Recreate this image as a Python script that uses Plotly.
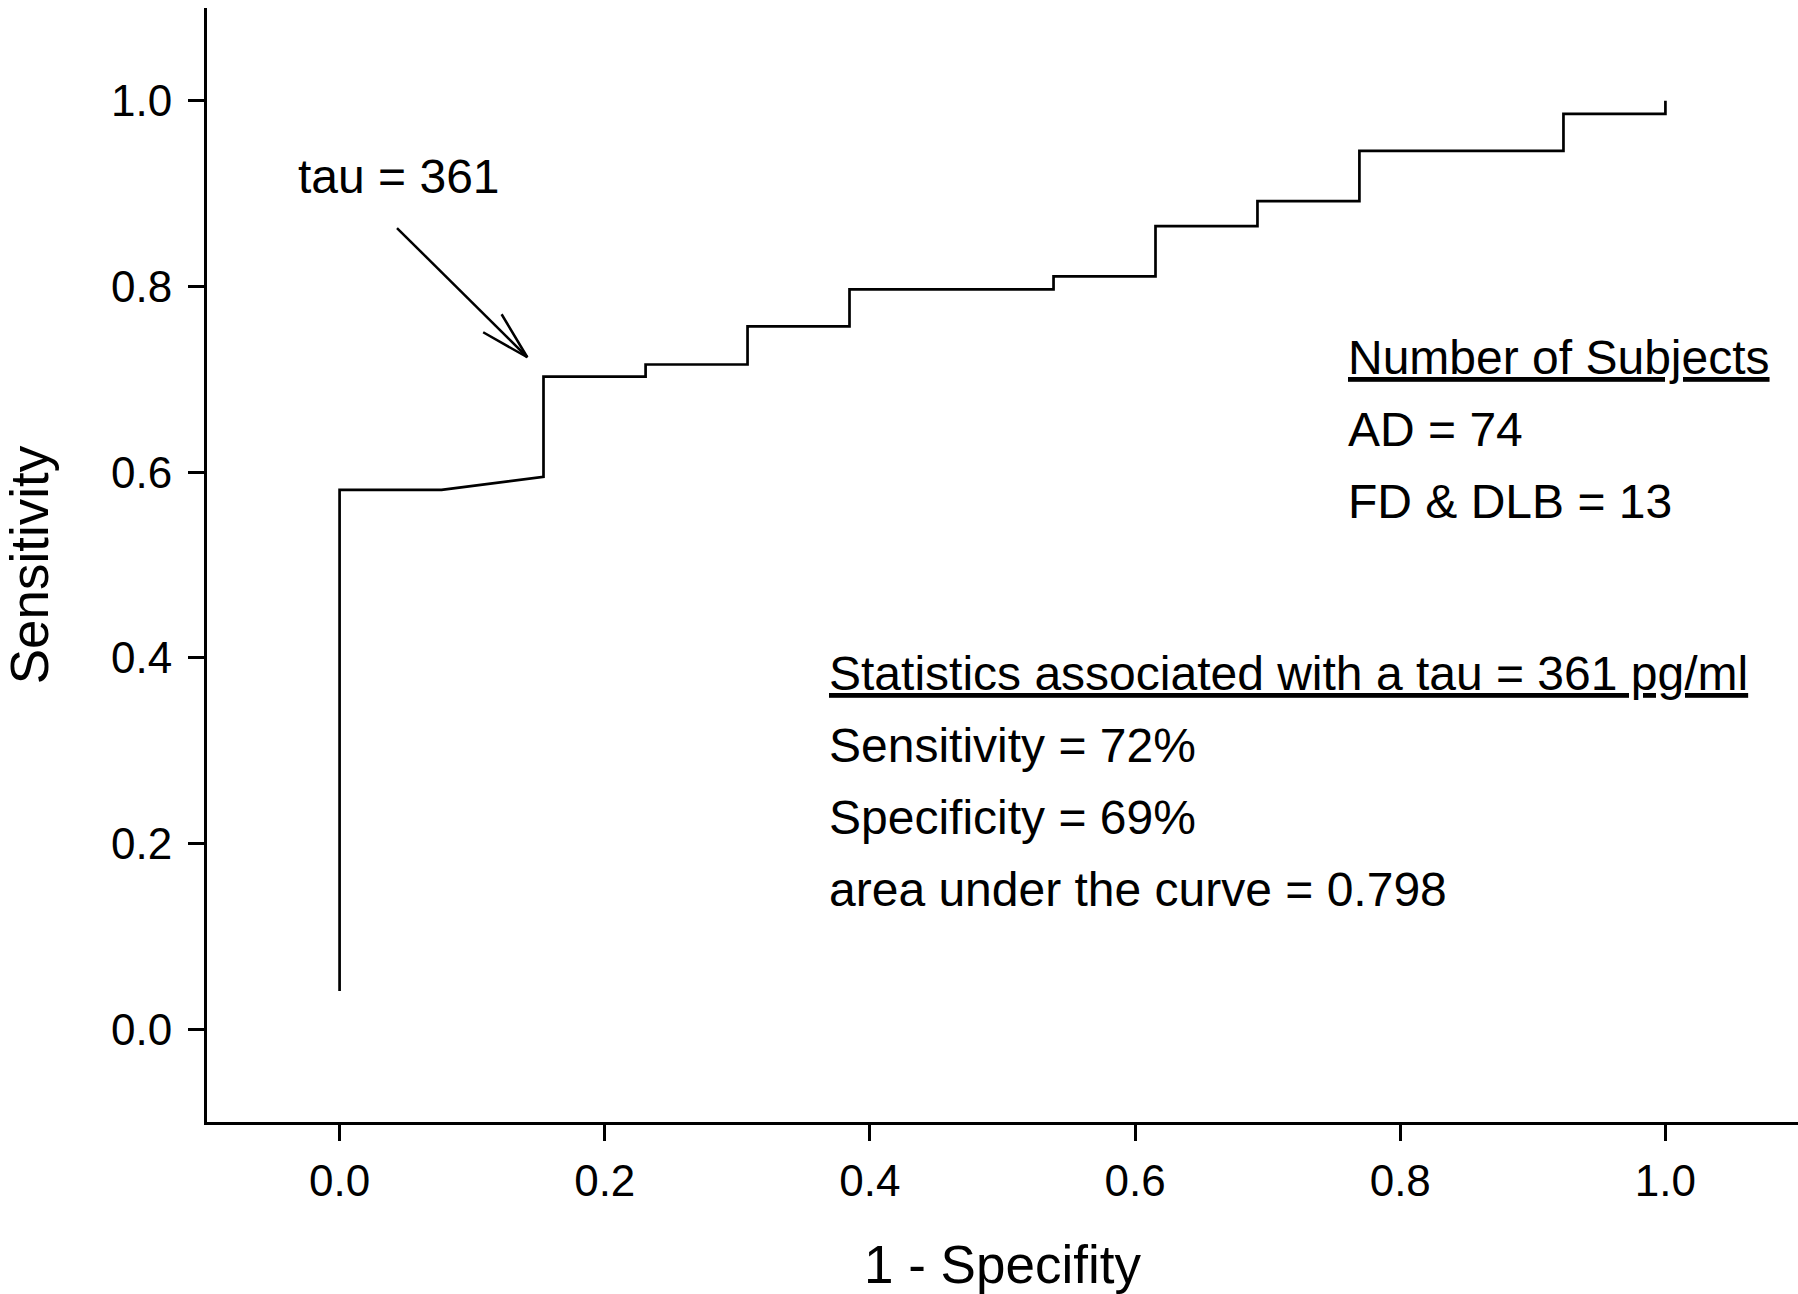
import plotly.graph_objects as go

# ROC curve points (1 - specificity, sensitivity)
fpr = [0.0, 0.0, 0.0769, 0.1538, 0.1538, 0.2308, 0.2308, 0.3077, 0.3077,
       0.3846, 0.3846, 0.5385, 0.5385, 0.6154, 0.6154, 0.6923, 0.6923,
       0.7692, 0.7692, 0.9231, 0.9231, 1.0, 1.0]
tpr = [0.041, 0.581, 0.581, 0.595, 0.703, 0.703, 0.716, 0.716, 0.757,
       0.757, 0.797, 0.797, 0.811, 0.811, 0.865, 0.865, 0.892, 0.892,
       0.946, 0.946, 0.986, 0.986, 1.0]

tick_vals = [0.0, 0.2, 0.4, 0.6, 0.8, 1.0]
tick_text = ["0.0", "0.2", "0.4", "0.6", "0.8", "1.0"]

# arrow pointing at the tau = 361 cut-off (tail, tip, barbs)
arrow_x = [0.0433, 0.1416, None, 0.1222, 0.1416, 0.1083]
arrow_y = [0.863, 0.7238, None, 0.7701, 0.7238, 0.7507]

# text blocks: (text, x, y, underlined)
notes = [
    ("tau = 361", -0.033, 0.918, False),
    ("Number of Subjects", 0.759, 0.724, True),
    ("AD = 74", 0.759, 0.646, False),
    ("FD &amp; DLB = 13", 0.759, 0.5685, False),
    ("Statistics associated with a tau = 361 pg/ml", 0.368, 0.383, True),
    ("Sensitivity = 72%", 0.368, 0.306, False),
    ("Specificity = 69%", 0.368, 0.228, False),
    ("area under the curve = 0.798", 0.368, 0.150, False),
]

FONT = "Liberation Sans, Arial, sans-serif"

fig = go.Figure()
fig.add_trace(go.Scatter(x=fpr, y=tpr, mode="lines",
                         line=dict(color="black", width=2.7),
                         showlegend=False, hoverinfo="skip"))
fig.add_trace(go.Scatter(x=arrow_x, y=arrow_y, mode="lines",
                         line=dict(color="black", width=2.5),
                         showlegend=False, hoverinfo="skip"))

for text, x, y, ul in notes:
    f = dict(family=FONT, size=48, color="black")
    if ul:
        f["lineposition"] = "under"
    fig.add_annotation(x=x, y=y, xref="x", yref="y", text=text,
                       showarrow=False, xanchor="left", yanchor="middle",
                       font=f)

axis_common = dict(
    showgrid=False, zeroline=False, showline=True, linecolor="black",
    linewidth=3, ticks="outside", ticklen=16, tickwidth=2.5,
    tickcolor="black", tickvals=tick_vals, ticktext=tick_text,
    tickfont=dict(family=FONT, size=44, color="black"),
    range=[-0.1, 1.1], fixedrange=True,
)

fig.update_layout(
    width=1798, height=1294,
    margin=dict(l=207, r=0, t=8, b=172),
    paper_bgcolor="white", plot_bgcolor="white",
    xaxis=dict(**axis_common, ticklabelstandoff=2,
               title=dict(text="1 - Specifity", standoff=44,
                          font=dict(family=FONT, size=53, color="black"))),
    yaxis=dict(**axis_common, ticklabelstandoff=7,
               title=dict(text="Sensitivity", standoff=52,
                          font=dict(family=FONT, size=53, color="black"))),
)

fig.write_html("out.html")
